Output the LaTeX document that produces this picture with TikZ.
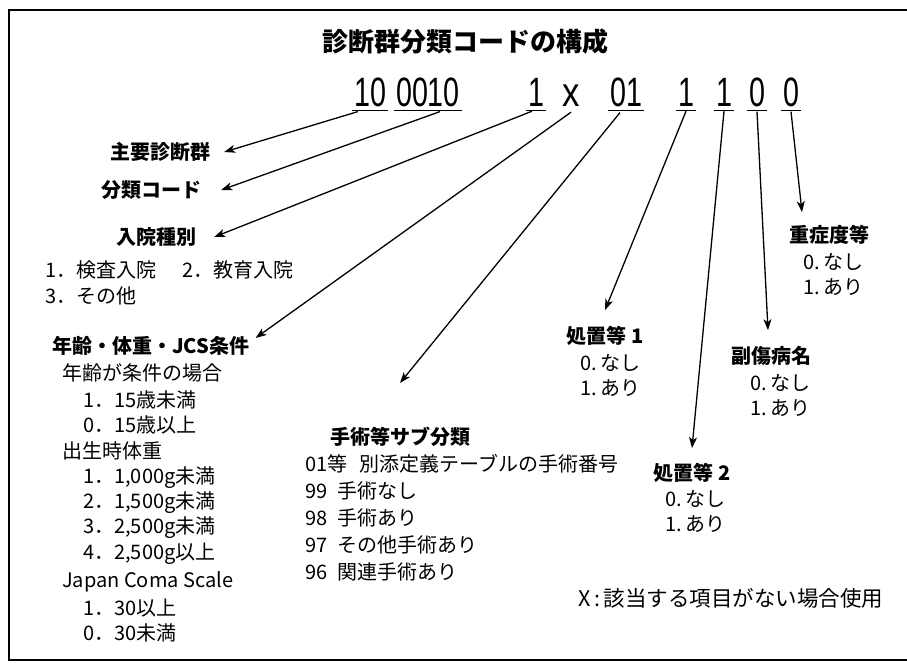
\documentclass[tikz,border=0pt]{standalone}
\usepackage{fontspec}
\usepackage{graphicx}
\setmainfont{Noto Sans CJK JP}
\newfontfamily\codefont{Liberation Sans}
\usetikzlibrary{arrows.meta,calc}
\begin{document}
\begin{tikzpicture}[x=1pt,y=-1pt]
\tikzset{
 code/.style={font=\codefont\fontsize{41}{44}\selectfont, inner xsep=2pt, inner ysep=0pt, anchor=base},
 uline/.style={line width=1.3pt},
 head/.style={font=\bfseries\fontsize{20}{24}\selectfont, inner sep=0pt},
 item/.style={font=\fontsize{20}{24}\selectfont, inner sep=0pt, anchor=west},
 arr/.style={line width=1.3pt, -{Stealth[length=11pt,width=8pt,inset=3pt]}},
 framestyle/.style={line width=2pt},
}
\useasboundingbox (0,0) rectangle (907,662);
\draw[framestyle] (907,10) -- (9,10) -- (9,660) -- (907,660);

% title
\node[font=\bfseries\fontsize{26}{30}\selectfont, inner sep=0pt] (title) at (465,42) {診断群分類コードの構成};

% code
\node[code] (c10)   at (370,106) {\scalebox{0.7}[1]{10}};
\node[code] (c0010) at (428,106) {\scalebox{0.7}[1]{0010}};
\node[code] (c1a)   at (536,106) {\scalebox{0.7}[1]{1}};
\node[code] (cx)    at (571,106) {\scalebox{0.85}[1]{x}};
\node[code] (c01)   at (626,106) {\scalebox{0.7}[1]{01}};
\node[code] (c1b)   at (686,106) {\scalebox{0.7}[1]{1}};
\node[code] (c1c)   at (724,106) {\scalebox{0.7}[1]{1}};
\node[code] (c0a)   at (757,106) {\scalebox{0.7}[1]{0}};
\node[code] (c0b)   at (791,106) {\scalebox{0.7}[1]{0}};
\foreach \n in {c10,c0010,c1a,c01,c1b,c1c,c0a,c0b}
  \draw[uline] ([yshift=-4pt]\n.south west) -- ([yshift=-4pt]\n.south east);

% left labels
\node[head] (mds) at (160,152) {主要診断群};
\node[head] (bunrui) at (151,190) {分類コード};
\node[head] (nyuin) at (156,237) {入院種別};
\node[item] (ny1) at (45,270) {1．検査入院\hspace{1.3em}2．教育入院};
\node[item] (ny2) at (45,296) {3．その他};

\node[head, anchor=west] (age) at (52,346) {年齢・体重・JCS条件};
\node[item] (agec) at (62,373) {年齢が条件の場合};
\node[item] (a1) at (83,400) {1．15歳未満};
\node[item] (a2) at (83,425) {0．15歳以上};
\node[item] (birth) at (62,451) {出生時体重};
\node[item] (b1) at (83,478) {1．1,000g未満};
\node[item] (b2) at (83,503) {2．1,500g未満};
\node[item] (b3) at (83,528) {3．2,500g未満};
\node[item] (b4) at (83,554) {4．2,500g以上};
\node[item] (jcs) at (62,582) {Japan Coma Scale};
\node[item] (j1) at (83,608) {1．30以上};
\node[item] (j2) at (83,633) {0．30未満};

% surgery
\node[head] (sub) at (400,437) {手術等サブ分類};
\node[item] (s01) at (305,464) {01等\hspace{0.6em}別添定義テーブルの手術番号};
\node[item] (s99) at (305,491) {99\hspace{0.5em}手術なし};
\node[item] (s98) at (305,518) {98\hspace{0.5em}手術あり};
\node[item] (s97) at (305,545) {97\hspace{0.5em}その他手術あり};
\node[item] (s96) at (305,572) {96\hspace{0.5em}関連手術あり};

% right labels
\node[head] (sh1) at (605,336) {処置等 1};
\node[item] (sh1a) at (580,363) {0.\,なし};
\node[item] (sh1b) at (580,388) {1.\,あり};

\node[head] (sh2) at (692,473) {処置等 2};
\node[item] (sh2a) at (665,499) {0.\,なし};
\node[item] (sh2b) at (665,524) {1.\,あり};

\node[head] (fuku) at (771,356) {副傷病名};
\node[item] (fukua) at (750,383) {0.\,なし};
\node[item] (fukub) at (750,408) {1.\,あり};

\node[head] (ju) at (829,235) {重症度等};
\node[item] (jua) at (803,262) {0.\,なし};
\node[item] (jub) at (803,287) {1.\,あり};

\node[item, font=\fontsize{21.5}{24}\selectfont] (note) at (578,598) {X\,:\,該当する項目がない場合使用};

% arrows
\draw[arr] ([xshift=6pt,yshift=-5pt]c10.south west) -- ([xshift=14pt]mds.east);
\draw[arr] ([xshift=12pt,yshift=-5pt]c0010.south) -- ([xshift=20pt]bunrui.east);
\draw[arr] ([xshift=-4pt,yshift=-5pt]c1a.south) -- ([xshift=18pt]nyuin.east);
\draw[arr] ([yshift=-6pt]cx.south) -- ([xshift=6pt,yshift=8pt]age.east);
\draw[arr] ([xshift=-6pt,yshift=-6pt]c01.south) -- ([yshift=44pt]sub.north);
\draw[arr] ([yshift=-5pt]c1b.south) -- ([yshift=16pt]sh1.north);
\draw[arr] ([yshift=-5pt]c1c.south) -- ([yshift=15pt]sh2.north);
\draw[arr] ([yshift=-5pt]c0a.south) -- ([xshift=-3pt,yshift=16pt]fuku.north);
\draw[arr] ([yshift=-5pt]c0b.south) -- ([xshift=-27pt,yshift=13pt]ju.north);
\end{tikzpicture}
\end{document}
